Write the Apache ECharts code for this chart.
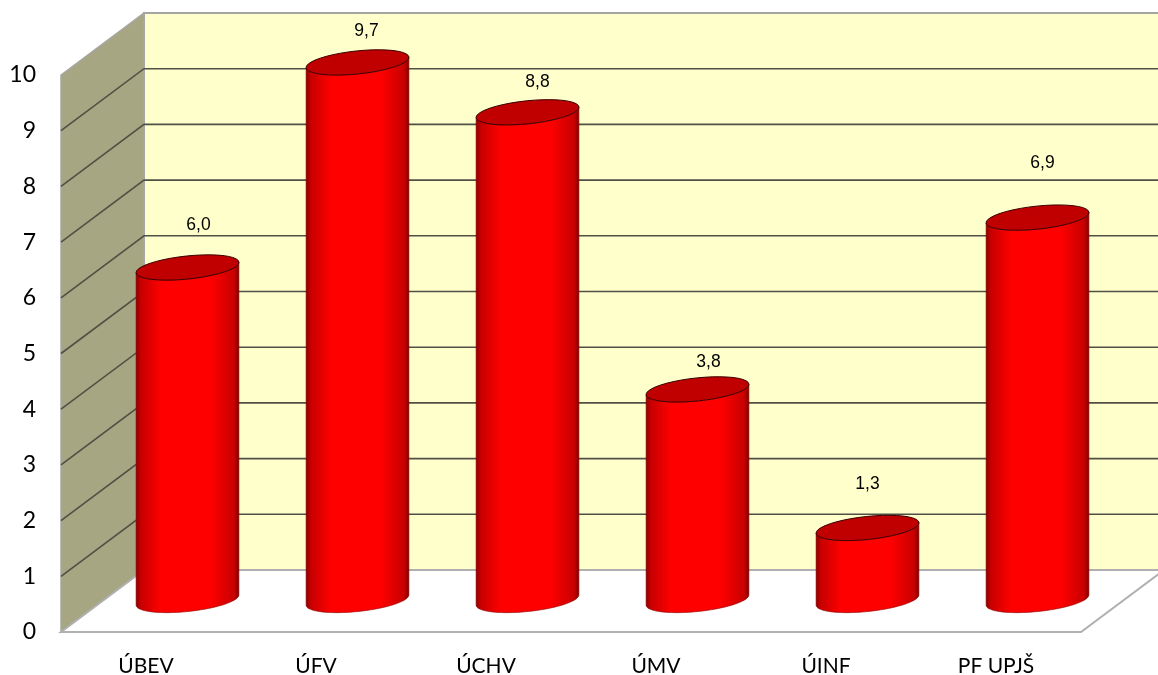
<!DOCTYPE html>
<html>
<head>
<meta charset="utf-8">
<title>PF UPJŠ</title>
<style>
  html, body { margin: 0; padding: 0; background: #fff; }
  #chart { width: 1158px; height: 675px; }
</style>
<script src="https://cdn.jsdelivr.net/npm/echarts@6/dist/echarts.min.js"></script>
</head>
<body>
<div id="chart"></div>
<script>
const categories = ['ÚBEV', 'ÚFV', 'ÚCHV', 'ÚMV', 'ÚINF', 'PF UPJŠ'];
const values = [6.0, 9.7, 8.8, 3.8, 1.3, 6.9];
const yTicks = [1, 2, 3, 4, 5, 6, 7, 8, 9];

// fake 3d: how far the back wall is pushed from the front plane
const DEPTH_X = 83;
const DEPTH_Y = 62;
const TILT = 6 * Math.PI / 180;
// cylinders stand mid depth, a bit smaller than the front plane
const MID_SCALE = 0.995;
// data labels do not sit at a constant distance above the cylinders in the original
const labelNudge = [[11, -42], [9, -31], [10, -30], [11, -27], [0, -44], [5, -54]];

// points of the tilted ellipse from angle t0 to t1
const ellipsePts = (cx, cy, a, b, t0, t1) => {
  const pts = [];
  const steps = 40;
  for (let i = 0; i <= steps; i++) {
    const t = t0 + (t1 - t0) * i / steps;
    pts.push([
      cx + a * Math.cos(t) * Math.cos(TILT) + b * Math.sin(t) * Math.sin(TILT),
      cy - a * Math.cos(t) * Math.sin(TILT) + b * Math.sin(t) * Math.cos(TILT)
    ]);
  }
  return pts;
};

const renderWalls = (params) => {
  const g = params.coordSys;
  const x0 = g.x, x1 = g.x + g.width, y0 = g.y + g.height, y1 = g.y;
  return {
    type: 'group',
    children: [
      {
        type: 'polygon',
        shape: { points: [[x0 + DEPTH_X, y1 - DEPTH_Y], [x1 + DEPTH_X, y1 - DEPTH_Y], [x1 + DEPTH_X, y0 - DEPTH_Y], [x0 + DEPTH_X, y0 - DEPTH_Y]] },
        style: { fill: '#ffffcc', stroke: '#a6a6a0', lineWidth: 2 }
      },
      {
        type: 'polygon',
        shape: { points: [[x0, y1], [x0 + DEPTH_X, y1 - DEPTH_Y], [x0 + DEPTH_X, y0 - DEPTH_Y], [x0, y0]] },
        style: { fill: '#a6a682', stroke: '#a6a6a6', lineWidth: 1.5 }
      },
      {
        type: 'polygon',
        shape: { points: [[x0, y0], [x0 + DEPTH_X, y0 - DEPTH_Y], [x1 + DEPTH_X, y0 - DEPTH_Y], [x1, y0]] },
        style: { fill: '#ffffff', stroke: '#b0b0b0', lineWidth: 2 }
      }
    ]
  };
};

const renderGridLine = (params, api) => {
  const g = params.coordSys;
  const p = api.coord([0, api.value(1)]);
  return {
    type: 'polyline',
    shape: { points: [[g.x, p[1]], [g.x + DEPTH_X, p[1] - DEPTH_Y], [g.x + g.width + DEPTH_X, p[1] - DEPTH_Y]] },
    style: { fill: 'none', stroke: '#505046', lineWidth: 1.6 }
  };
};

const renderCylinder = (params, api) => {
  const i = api.value(0);
  const top = api.coord([i, api.value(1)]);
  const base = api.coord([i, 0]);
  const cx = top[0] + DEPTH_X / 2;
  const baseY = base[1] - 32;
  const topY = baseY - (base[1] - top[1]) * MID_SCALE;
  const a = api.size([1, 0])[0] * 0.304;
  const b = 11.5;
  const body = ellipsePts(cx, baseY, a, b, 0, Math.PI).concat(ellipsePts(cx, topY, a, b, Math.PI, 0));
  const nudge = labelNudge[i];
  return {
    type: 'group',
    children: [
      {
        type: 'polygon',
        shape: { points: body },
        style: {
          fill: new echarts.graphic.LinearGradient(0, 0, 1, 0, [
            { offset: 0, color: '#8a0000' },
            { offset: 0.05, color: '#c80000' },
            { offset: 0.25, color: '#ff0000' },
            { offset: 0.72, color: '#ff0000' },
            { offset: 0.95, color: '#c80000' },
            { offset: 1, color: '#800000' }
          ]),
          stroke: '#8a0000',
          lineWidth: 0.6
        }
      },
      {
        type: 'polygon',
        shape: { points: ellipsePts(cx, topY, a, b, 0, Math.PI * 2) },
        style: { fill: '#c00000', stroke: '#3a0000', lineWidth: 1 }
      },
      {
        type: 'text',
        style: {
          text: api.value(1).toFixed(1).replace('.', ','),
          x: cx + nudge[0],
          y: topY + nudge[1],
          align: 'center',
          verticalAlign: 'middle',
          fill: '#000',
          font: '17.5px "Liberation Sans", Arial, sans-serif'
        }
      }
    ]
  };
};

const chart = echarts.init(document.getElementById('chart'), null, { renderer: 'canvas' });

chart.setOption({
  animation: false,
  // v6 shrinks the grid to keep the labels inside otherwise
  grid: { left: 61, top: 75, width: 1020, height: 557, outerBoundsMode: 'none' },
  xAxis: {
    type: 'category',
    data: categories,
    axisLine: { show: false },
    axisTick: { show: false },
    axisLabel: { margin: 24, fontSize: 21, color: '#000', fontFamily: 'Lato' }
  },
  yAxis: {
    type: 'value',
    min: 0,
    max: 10,
    interval: 1,
    axisLine: { show: false },
    axisTick: { show: false },
    splitLine: { show: false },
    axisLabel: { margin: 25, fontSize: 23, color: '#000', fontFamily: 'Lato', padding: [4, 0, 0, 0] }
  },
  series: [
    { type: 'custom', clip: false, silent: true, z: 1, renderItem: renderWalls, data: [[0, 0]] },
    { type: 'custom', clip: false, silent: true, z: 2, renderItem: renderGridLine, data: yTicks.map(t => [0, t]) },
    { type: 'custom', clip: false, z: 3, renderItem: renderCylinder, data: categories.map((c, i) => [i, values[i]]) }
  ]
});
</script>
</body>
</html>
